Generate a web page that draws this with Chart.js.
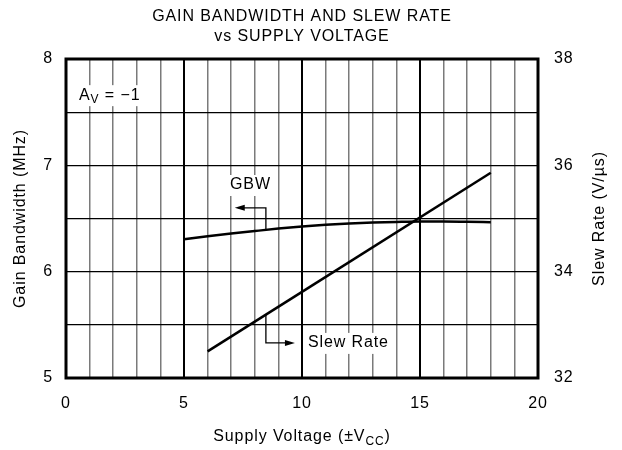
<!DOCTYPE html>
<html>
<head>
<meta charset="utf-8">
<script src="https://cdn.jsdelivr.net/npm/chart.js@4"></script>
<style>
  html, body { margin: 0; padding: 0; background: #fff; }
  canvas { display: block; }
</style>
</head>
<body>
<canvas id="chart" width="622" height="450"></canvas>
<script>
/* ── Data ────────────────────────────────────── */
const gbwVoltage  = [5, 6, 7, 8, 9, 10, 11, 12, 13, 14, 15, 16, 17, 18];
const gbwMHz      = [6.304, 6.332, 6.358, 6.382, 6.405, 6.425, 6.441, 6.453, 6.462, 6.468, 6.472, 6.472, 6.469, 6.465];
const slewVoltage = [6, 10, 18];
const slewRate    = [32.5, 33.62, 35.86];

const titleLines  = ['GAIN BANDWIDTH AND SLEW RATE', 'vs SUPPLY VOLTAGE'];

/* ── Style ───────────────────────────────────── */
const FONT    = "'Liberation Sans', Arial, Helvetica, sans-serif";
const FSIZE   = 16;
const SPACING = '0.9px';
const INK     = '#000';
const MINOR   = '#7a7a7a';

function pts(xs, ys) { return xs.map((x, i) => ({ x, y: ys[i] })); }

/* the reference lettering is set wide, so open up the tracking */
const tracking = {
  id: 'tracking',
  beforeDraw(chart) { chart.ctx.letterSpacing = SPACING; },
};

/* ── Labels, arrows, frame, titles with subscripts ── */
const decorations = {
  id: 'decorations',
  afterDatasetsDraw(chart) {
    const { ctx, chartArea: a, scales: { x, y } } = chart;
    const X = v => x.getPixelForValue(v);
    const Y = v => y.getPixelForValue(v);

    ctx.save();
    ctx.letterSpacing = SPACING;
    ctx.fillStyle = INK;
    ctx.strokeStyle = INK;
    ctx.textBaseline = 'middle';

    const fontFor = p => (p.sub ? 12 : FSIZE) + 'px ' + FONT;
    function widthOf(parts) {
      let w = 0;
      parts.forEach(p => { ctx.font = fontFor(p); w += ctx.measureText(p.t).width; });
      return w;
    }
    // text with optional subscript, drawn over a white box
    function label(parts, left, cy, box) {
      const w = widthOf(parts);
      if (box) {
        ctx.fillStyle = '#fff';
        ctx.fillRect(left - 3, cy - 10, w + 5, 21);
        ctx.fillStyle = INK;
      }
      let cx = left;
      ctx.textAlign = 'left';
      parts.forEach(p => {
        ctx.font = fontFor(p);
        ctx.fillText(p.t, cx, cy + (p.sub ? 5 : 0));
        cx += ctx.measureText(p.t).width;
      });
    }
    function arrowHead(tx, ty, dir) {
      ctx.beginPath();
      ctx.moveTo(tx, ty);
      ctx.lineTo(tx - dir * 10, ty - 3);
      ctx.lineTo(tx - dir * 10, ty + 3);
      ctx.closePath();
      ctx.fill();
    }

    // A_V = -1
    label([{ t: 'A' }, { t: 'V', sub: true }, { t: ' = \u22121' }], X(0.55), Y(7.66), true);

    // GBW label + arrow
    label([{ t: 'GBW' }], X(6.95), Y(6.815), true);
    ctx.lineWidth = 1.3;
    ctx.beginPath();
    ctx.moveTo(X(8.47), Y(6.39));
    ctx.lineTo(X(8.47), Y(6.60));
    ctx.lineTo(X(7.3), Y(6.60));
    ctx.stroke();
    arrowHead(X(7.15), Y(6.60), -1);

    // Slew Rate label + arrow
    label([{ t: 'Slew Rate' }], X(10.25), Y(5.33), true);
    ctx.beginPath();
    ctx.moveTo(X(8.47), Y(5.6));
    ctx.lineTo(X(8.47), Y(5.33));
    ctx.lineTo(X(9.5), Y(5.33));
    ctx.stroke();
    arrowHead(X(9.7), Y(5.33), 1);

    // plot frame
    ctx.lineWidth = 3;
    ctx.strokeRect(a.left, a.top, a.right - a.left, a.bottom - a.top);

    // x axis title with subscript
    const xt = [{ t: 'Supply Voltage (\u00B1V' }, { t: 'CC', sub: true }, { t: ')' }];
    label(xt, (a.left + a.right) / 2 - widthOf(xt) / 2, 437, false);

    // right axis title, reading bottom to top
    ctx.translate(600, (a.top + a.bottom) / 2);
    ctx.rotate(-Math.PI / 2);
    ctx.font = FSIZE + 'px ' + FONT;
    ctx.textAlign = 'center';
    ctx.fillText('Slew Rate (V/\u00B5s)', 0, 0);
    ctx.restore();
  }
};

/* ── Chart ───────────────────────────────────── */
new Chart(document.getElementById('chart'), {
  type: 'line',
  data: {
    datasets: [
      {
        label: 'GBW',
        data: pts(gbwVoltage, gbwMHz),
        yAxisID: 'y',
        borderColor: INK,
        borderWidth: 2.5,
        pointRadius: 0,
        cubicInterpolationMode: 'monotone',
        fill: false,
      },
      {
        label: 'Slew Rate',
        data: pts(slewVoltage, slewRate),
        yAxisID: 'y2',
        borderColor: INK,
        borderWidth: 2.5,
        pointRadius: 0,
        tension: 0,
        fill: false,
      },
    ],
  },
  options: {
    responsive: false,
    animation: false,
    layout: { padding: 0 },
    plugins: {
      legend: { display: false },
      tooltip: { enabled: false },
      title: {
        display: true,
        fullSize: false,
        text: titleLines,
        color: INK,
        font: { family: FONT, size: FSIZE, weight: 'normal', lineHeight: 1.25 },
        padding: { top: 7, bottom: 12 },
      },
    },
    scales: {
      x: {
        type: 'linear',
        min: 0, max: 20,
        afterFit: s => { s.height = 72; },
        ticks: {
          stepSize: 1, autoSkip: false, padding: 16,
          minRotation: 0, maxRotation: 0,
          color: INK, font: { family: FONT, size: FSIZE },
          callback: v => (v % 5 === 0 ? v : ''),
        },
        grid: {
          drawTicks: false,
          color: c => (c.tick && c.tick.value % 5 === 0 ? INK : MINOR),
          lineWidth: c => (c.tick && c.tick.value % 5 === 0 ? 2 : 1.5),
        },
        border: { display: false },
      },
      y: {
        position: 'left',
        min: 5, max: 8,
        afterFit: s => { s.width = 66; },
        ticks: {
          stepSize: 0.5, autoSkip: false, padding: 13,
          color: INK, font: { family: FONT, size: FSIZE },
          callback: v => (Number.isInteger(v) ? v : ''),
        },
        grid: { drawTicks: false, color: INK, lineWidth: 1.3 },
        border: { display: false },
        title: {
          display: true,
          text: 'Gain Bandwidth (MHz)',
          color: INK,
          font: { family: FONT, size: FSIZE },
          padding: { top: 11, bottom: 0 },
        },
      },
      y2: {
        position: 'right',
        min: 32, max: 38,
        afterFit: s => { s.width = 84; },
        ticks: {
          stepSize: 2, padding: 16,
          color: INK, font: { family: FONT, size: FSIZE },
        },
        grid: { display: false, drawTicks: false },
        border: { display: false },
      },
    },
  },
  plugins: [tracking, decorations],
});
</script>
</body>
</html>
